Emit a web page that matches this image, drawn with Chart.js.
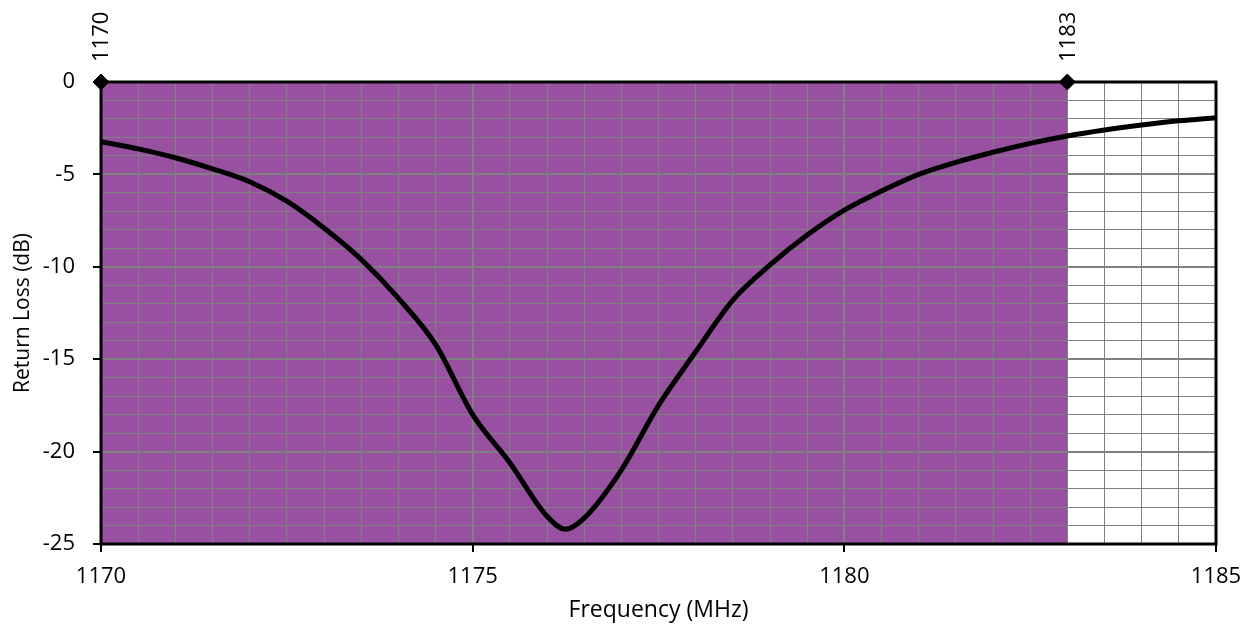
<!DOCTYPE html>
<html>
<head>
<meta charset="utf-8">
<script src="https://cdn.jsdelivr.net/npm/chart.js@4/dist/chart.umd.min.js"></script>
<style>
    html, body { margin: 0; padding: 0; background: #fff; }
    #wrap { width: 1256px; height: 624px; }
</style>
</head>
<body>
<div id="wrap"><canvas id="lossChart" width="1256" height="624"></canvas></div>
<script>
const freqMHz = [1170, 1170.5, 1171, 1171.5, 1172, 1172.5, 1173, 1173.5, 1174, 1174.5,
    1175, 1175.5, 1176, 1176.25, 1176.5, 1177, 1177.5, 1178, 1178.5, 1179, 1179.5,
    1180, 1180.5, 1181, 1181.5, 1182, 1182.5, 1183, 1183.5, 1184, 1184.5, 1185];
const returnLoss = [-3.23, -3.62, -4.1, -4.7, -5.4, -6.45, -7.9, -9.6, -11.7, -14.2,
    -18.0, -20.6, -23.5, -24.2, -23.6, -21.0, -17.5, -14.6, -11.8, -9.9, -8.28,
    -6.93, -5.9, -5.0, -4.35, -3.8, -3.32, -2.92, -2.6, -2.33, -2.1, -1.93];

// band edges (diamond markers + shaded band)
const bandEdges = [1170, 1183];

const FONT = "'Open Sans', sans-serif";
const GRID = "#808080";

const bandPlugin = {
    id: "band",
    beforeDraw(chart) {
        const { ctx, chartArea, scales } = chart;
        const x0 = scales.x.getPixelForValue(bandEdges[0]);
        const x1 = scales.x.getPixelForValue(bandEdges[1]);
        ctx.save();
        ctx.fillStyle = "#9850a0";
        ctx.fillRect(x0, chartArea.top, x1 - x0, chartArea.bottom - chartArea.top);
        ctx.restore();
    },
    beforeDatasetsDraw(chart) {
        const { ctx, chartArea } = chart;
        ctx.save();
        ctx.strokeStyle = "#000";
        ctx.lineWidth = 3;
        ctx.strokeRect(chartArea.left, chartArea.top,
            chartArea.right - chartArea.left, chartArea.bottom - chartArea.top);
        ctx.restore();
    },
    afterDatasetsDraw(chart) {
        const { ctx } = chart;
        const meta = chart.getDatasetMeta(1);
        ctx.save();
        ctx.fillStyle = "#000";
        ctx.font = "22px " + FONT;
        ctx.textAlign = "left";
        ctx.textBaseline = "middle";
        meta.data.forEach((pt, i) => {
            ctx.save();
            ctx.translate(pt.x + 1, pt.y - 20);
            ctx.rotate(-Math.PI / 2);
            ctx.fillText(String(bandEdges[i]), 0, 0);
            ctx.restore();
        });
        ctx.restore();
    }
};

const isMajor = (v, step) => Math.abs(v / step - Math.round(v / step)) < 1e-6;

new Chart(document.getElementById("lossChart").getContext("2d"), {
    type: "line",
    data: {
        datasets: [{
            data: freqMHz.map((f, i) => ({ x: f, y: returnLoss[i] })),
            borderColor: "#000",
            borderWidth: 5,
            pointRadius: 0,
            cubicInterpolationMode: "monotone",
            fill: false,
        }, {
            data: bandEdges.map((f) => ({ x: f, y: 0 })),
            showLine: false,
            pointStyle: "rectRot",
            pointRadius: 8,
            backgroundColor: "#000",
            borderColor: "#000",
            clip: false,
        }],
    },
    options: {
        responsive: false,
        animation: false,
        events: [],
        layout: { padding: { top: 82, right: 40, left: 0, bottom: 0 } },
        plugins: { legend: { display: false }, tooltip: { enabled: false } },
        scales: {
            x: {
                type: "linear",
                min: 1170,
                max: 1185,
                afterFit(scale) { scale.height = 80; },
                ticks: {
                    stepSize: 0.5,
                    autoSkip: false,
                    maxRotation: 0,
                    padding: 12,
                    color: "#000",
                    font: { family: FONT, size: 22 },
                    callback: (v) => isMajor(v, 5) ? String(v) : "",
                },
                grid: {
                    color: GRID,
                    lineWidth: (c) => isMajor(c.tick.value, 5) ? 2 : 1,
                    tickLength: 8,
                    tickColor: (c) => isMajor(c.tick.value, 5) ? "#000" : "rgba(0,0,0,0)",
                    tickWidth: 2,
                },
                border: { display: false },
                title: {
                    display: true,
                    text: "Frequency (MHz)",
                    color: "#000",
                    font: { family: FONT, size: 23 },
                    padding: { top: 0, bottom: 0 },
                },
            },
            y: {
                min: -25,
                max: 0,
                afterFit(scale) { scale.width = 101; },
                ticks: {
                    stepSize: 1,
                    autoSkip: false,
                    padding: 18,
                    color: "#000",
                    font: { family: FONT, size: 22 },
                    callback: (v) => isMajor(v, 5) ? String(v) : "",
                },
                grid: {
                    color: GRID,
                    lineWidth: (c) => isMajor(c.tick.value, 5) ? 2 : 1,
                    tickLength: 8,
                    tickColor: (c) => isMajor(c.tick.value, 5) ? "#000" : "rgba(0,0,0,0)",
                    tickWidth: 2,
                },
                border: { display: false },
                title: {
                    display: true,
                    text: "Return Loss (dB)",
                    color: "#000",
                    font: { family: FONT, size: 21 },
                    padding: { top: 10, bottom: 0 },
                },
            },
        },
    },
    plugins: [bandPlugin],
});
</script>
</body>
</html>
